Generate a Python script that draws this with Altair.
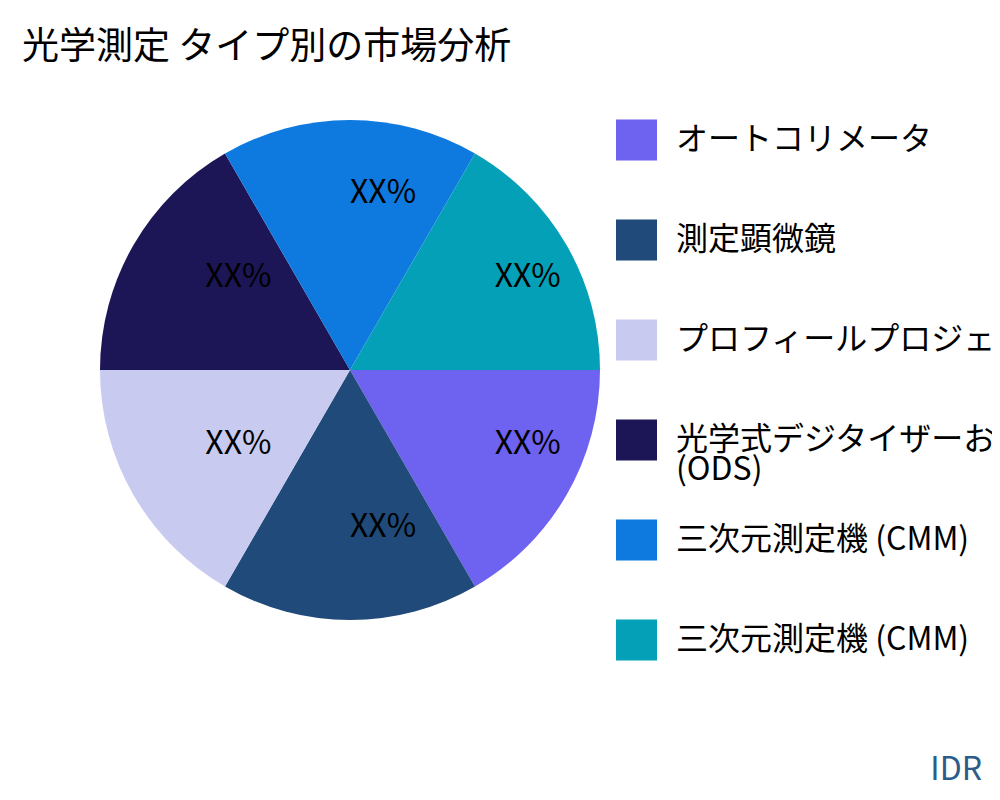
import math
import altair as alt
import pandas as pd

# ---- data ----
labels = [
    "オートコリメータ",
    "測定顕微鏡",
    "プロフィールプロジェクター",
    "光学式デジタイザーおよびスキャナー\n(ODS)",
    "三次元測定機 (CMM)",
    "三次元測定機 (CMM)",
]
shares = [1, 1, 1, 1, 1, 1]
slice_text = ["XX%", "XX%", "XX%", "XX%", "XX%", "XX%"]
colors = ["#6E62F0", "#1F4A79", "#C8CAF0", "#1C1656", "#0E7AE0", "#03A0B8"]
title_text = "光学測定 タイプ別の市場分析"
brand = ["IDR"]

df = pd.DataFrame({"order": list(range(len(labels))), "label": labels,
                   "share": shares, "text": slice_text})
brand_df = pd.DataFrame({"t": brand})

FONT = "Noto Sans CJK JP"
CX, CY = 342, 282

color = alt.Color("order:O", scale=alt.Scale(domain=list(range(len(labels))), range=colors), legend=None)
theta = alt.Theta("share:Q", stack=True,
                  scale=alt.Scale(range=[math.pi / 2, math.pi / 2 + 2 * math.pi]))
order = alt.Order("order:O")

base = alt.Chart(df)

pie = base.mark_arc(radius=250).encode(
    theta=theta, color=color, order=order,
    x=alt.value(CX), y=alt.value(CY),
)

pie_text = base.mark_text(
    radius=167, align="left", baseline="alphabetic", fontSize=32, font=FONT, color="#000000"
).encode(
    theta=theta, order=order, detail="order:O", text="text:N",
    x=alt.value(CX), y=alt.value(CY),
)

yscale = alt.Scale(type="point", domain=list(range(len(labels))), range=[52, 552], padding=0)

legend_sq = base.mark_square(size=1681, opacity=1).encode(
    x=alt.value(628.5),
    y=alt.Y("order:O", scale=yscale, axis=None),
    color=color,
)

legend_txt = base.mark_text(
    align="left", baseline="alphabetic", dy=10, fontSize=32, font=FONT,
    color="#000000", lineBreak="\n", lineHeight=30,
).encode(
    x=alt.value(668),
    y=alt.Y("order:O", scale=yscale, axis=None),
    text="label:N",
)

brand_txt = alt.Chart(brand_df).mark_text(
    align="right", baseline="alphabetic", fontSize=32, font=FONT, color="#2B5C8A"
).encode(x=alt.value(974), y=alt.value(692), text="t:N")

chart = alt.layer(pie, pie_text, legend_sq, legend_txt, brand_txt).properties(
    width=984, height=704,
    autosize=alt.AutoSizeParams(type="none"),
    padding={"top": 80, "left": 0, "right": 0, "bottom": 0},
    background="white",
    title=alt.TitleParams(title_text, anchor="start", fontSize=37, font=FONT,
                          fontWeight="normal", color="#000000", dx=14, offset=21),
).configure_view(stroke=None)

chart.save("out.html", embed_options={"renderer": "svg", "actions": False})
